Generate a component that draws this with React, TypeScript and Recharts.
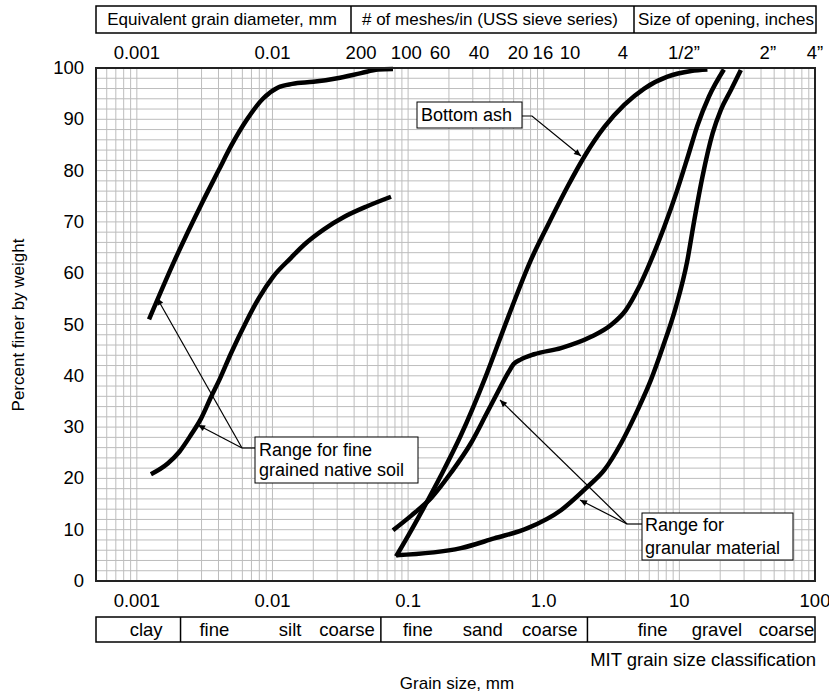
import React from "react"
import { LineChart, Line, XAxis, YAxis, CartesianGrid } from "recharts"

const W = 829
const H = 696
const FONT = "'Liberation Sans', Arial, Helvetica, sans-serif"

// grain size (mm) and percent finer
const fineUpperSize = [0.00123, 0.0019, 0.003, 0.004, 0.005, 0.0065, 0.0085, 0.011, 0.014, 0.02, 0.03, 0.045, 0.06, 0.0774]
const fineUpperPct = [51, 62.5, 73.5, 80, 85, 90, 94, 96.2, 96.9, 97.3, 98, 99, 99.7, 99.8]

const fineLowerSize = [0.00127, 0.00169, 0.00206, 0.00251, 0.00298, 0.00353, 0.00406, 0.00495, 0.00639, 0.00796, 0.0101, 0.0137, 0.0172, 0.0241, 0.0339, 0.0504, 0.0748]
const fineLowerPct = [20.8, 22.9, 25.2, 28.5, 31.7, 35.9, 39.2, 44.4, 50.5, 55.2, 59.3, 63.0, 65.6, 68.6, 71.0, 73.1, 74.9]

const ashSize = [0.0815, 0.1, 0.13, 0.175, 0.245, 0.375, 0.544, 0.805, 1.07, 1.5, 2.0, 2.8, 3.92, 5.51, 8.18, 12.2, 16.1]
const ashPct = [4.8, 8.8, 14.2, 20.6, 28.4, 40.0, 51.3, 62.6, 69.3, 76.9, 82.8, 88.5, 92.8, 96.0, 98.3, 99.4, 99.7]

const granUpperSize = [0.0774, 0.105, 0.148, 0.207, 0.291, 0.375, 0.46, 0.55, 0.6, 0.68, 0.85, 1.34, 2.23, 3.13, 4.03, 4.95, 5.86, 7.73, 9.59, 11.6, 13.6, 16.5, 21.3]
const granUpperPct = [9.9, 12.7, 16.2, 21.1, 26.9, 32.4, 36.9, 40.7, 42.3, 43.2, 44.2, 45.4, 47.6, 49.9, 52.8, 56.9, 61.1, 69.0, 76.0, 82.9, 88.8, 94.4, 99.7]

const granLowerSize = [0.0815, 0.245, 0.431, 0.76, 1.34, 2.11, 2.79, 3.71, 4.92, 6.17, 7.55, 9.42, 11.4, 12.9, 14.8, 17.6, 20.2, 24, 28.4]
const granLowerPct = [5.0, 6.4, 8.3, 10.3, 13.8, 18.4, 21.6, 26.8, 33.3, 39.2, 45.6, 53.4, 62.2, 70.4, 78.8, 87.3, 91.8, 95.7, 99.6]

// axes
const pctTicks = [0, 10, 20, 30, 40, 50, 60, 70, 80, 90, 100]
const bottomTicks = [0.001, 0.01, 0.1, 1, 10, 100]
const bottomTickLabels = ["0.001", "0.01", "0.1", "1.0", "10", "100"]
const topTicks = [0.001, 0.01, 0.045, 0.097, 0.172, 0.333, 0.646, 0.986, 1.56, 3.84, 10.8, 44.9, 100]
const topTickLabels = ["0.001", "0.01", "200", "100", "60", "40", "20", "16", "10", "4", "1/2\u201d", "2\u201d", "4\u201d"]

// MIT classification row
const mitWordSizes = [0.00117, 0.00373, 0.0135, 0.0355, 0.118, 0.355, 1.11, 6.35, 18.9, 61.7]
const mitWords = ["clay", "fine", "silt", "coarse", "fine", "sand", "coarse", "fine", "gravel", "coarse"]
const mitBounds = [0.0021, 0.063, 2.1]

const DOMAIN: [number, number] = [0.0005, 100]

// log paper grid
const gridX: number[] = []
for (const d of [0.0001, 0.001, 0.01, 0.1, 1, 10]) {
  for (let m = 1; m < 10; m++) {
    const v = +(d * m).toPrecision(3)
    if (v >= DOMAIN[0] && v <= DOMAIN[1]) gridX.push(v)
  }
}
const gridY = Array.from({ length: 51 }, (_, i) => i * 2)

const toPoints = (size: number[], pct: number[]) => size.map((s, i) => ({ size: s, pct: pct[i] }))

const curves = [
  toPoints(fineUpperSize, fineUpperPct),
  toPoints(fineLowerSize, fineLowerPct),
  toPoints(ashSize, ashPct),
  toPoints(granUpperSize, granUpperPct),
  toPoints(granLowerSize, granLowerPct),
]

const TopTick = ({ x, y, index }: any) => (
  <text x={x} y={y - 9} textAnchor="middle" fontSize={18.5} fontFamily={FONT} fill="#000">
    {topTickLabels[index]}
  </text>
)

const BottomTick = ({ x, y, index }: any) => (
  <text x={x} y={y + 26} textAnchor="middle" fontSize={18.5} fontFamily={FONT} fill="#000">
    {bottomTickLabels[index]}
  </text>
)

const PctTick = ({ x, y, payload }: any) => (
  <text x={x - 12} y={y + 6} textAnchor="end" fontSize={18.5} fontFamily={FONT} fill="#000">
    {payload.value}
  </text>
)

const MitTick = ({ x, y, payload }: any) => {
  if (mitBounds.includes(payload.value)) {
    return <line x1={x} x2={x} y1={y} y2={y + 25} stroke="#000" strokeWidth={1.5} />
  }
  const i = mitWordSizes.indexOf(payload.value)
  return (
    <text x={x} y={y + 19} textAnchor="middle" fontSize={18.5} fontFamily={FONT} fill="#000">
      {mitWords[i]}
    </text>
  )
}

const txt = { fontFamily: FONT, fill: "#000" }

export default function App() {
  return (
    <div style={{ position: "absolute", left: 0, top: 0, width: W, height: H, background: "#fff" }}>
      <LineChart width={W} height={H} margin={{ top: 38, right: 14, bottom: 54, left: 36 }}>
        <CartesianGrid
          xAxisId="bottom"
          yAxisId="pct"
          verticalValues={gridX}
          horizontalValues={gridY}
          stroke="#bdbdbd"
          strokeWidth={1}
        />
        <XAxis
          xAxisId="bottom"
          dataKey="size"
          type="number"
          scale="log"
          domain={DOMAIN}
          allowDataOverflow
          ticks={bottomTicks}
          interval={0}
          height={36}
          tickSize={0}
          tickMargin={0}
          axisLine={false}
          tickLine={false}
          tick={<BottomTick />}
        />
        <XAxis
          xAxisId="mit"
          dataKey="size"
          type="number"
          scale="log"
          domain={DOMAIN}
          allowDataOverflow
          ticks={[...mitWordSizes, ...mitBounds]}
          interval={0}
          height={25}
          tickSize={0}
          tickMargin={0}
          axisLine={false}
          tickLine={false}
          tick={<MitTick />}
        />
        <XAxis
          xAxisId="top"
          orientation="top"
          dataKey="size"
          type="number"
          scale="log"
          domain={DOMAIN}
          allowDataOverflow
          ticks={topTicks}
          interval={0}
          height={30}
          tickSize={0}
          tickMargin={0}
          axisLine={false}
          tickLine={false}
          tick={<TopTick />}
        />
        <YAxis
          yAxisId="pct"
          type="number"
          domain={[0, 100]}
          ticks={pctTicks}
          interval={0}
          width={60}
          tickSize={0}
          tickMargin={0}
          axisLine={false}
          tickLine={false}
          tick={<PctTick />}
        />
        {curves.map((data, i) => (
          <Line
            key={i}
            xAxisId="bottom"
            yAxisId="pct"
            data={data}
            dataKey="pct"
            type="monotone"
            stroke="#000"
            strokeWidth={4.5}
            dot={false}
            activeDot={false}
            isAnimationActive={false}
          />
        ))}
      </LineChart>

      <svg width={W} height={H} style={{ position: "absolute", left: 0, top: 0, pointerEvents: "none" }}>
        <defs>
          <marker id="arr" viewBox="0 0 10 10" refX="10" refY="5" markerWidth="10" markerHeight="7" markerUnits="userSpaceOnUse" orient="auto">
            <path d="M0,0.5 L10,5 L0,9.5 z" fill="#000" />
          </marker>
        </defs>

        {/* header row */}
        <rect x={96} y={6} width={720} height={27} fill="none" stroke="#000" strokeWidth={1.5} />
        <line x1={351} x2={351} y1={6} y2={33} stroke="#000" strokeWidth={1.5} />
        <line x1={634} x2={634} y1={6} y2={33} stroke="#000" strokeWidth={1.5} />
        <text x={222} y={25} textAnchor="middle" fontSize={17} {...txt}>Equivalent grain diameter, mm</text>
        <text x={490} y={25} textAnchor="middle" fontSize={17} {...txt}># of meshes/in (USS sieve series)</text>
        <text x={726} y={25} textAnchor="middle" fontSize={17} {...txt}>Size of opening, inches</text>

        {/* plot frame */}
        <rect x={96} y={68} width={719} height={513} fill="none" stroke="#222" strokeWidth={2} />

        {/* MIT box */}
        <rect x={96} y={617} width={719} height={25} fill="none" stroke="#000" strokeWidth={1.5} />
        <text x={816} y={666} textAnchor="end" fontSize={18.5} {...txt}>MIT grain size classification</text>
        <text x={457} y={689} textAnchor="middle" fontSize={17} {...txt}>Grain size, mm</text>
        <text x={24} y={325} textAnchor="middle" fontSize={17} transform="rotate(-90 24 325)" {...txt}>Percent finer by weight</text>

        {/* Bottom ash label */}
        <rect x={417} y={102} width={105} height={26} fill="#fff" stroke="#000" strokeWidth={1} />
        <text x={421} y={121} fontSize={18} {...txt}>Bottom ash</text>
        <polyline points="522,116 532,116 581,156" fill="none" stroke="#000" strokeWidth={1.2} markerEnd="url(#arr)" />

        {/* fine soil label */}
        <rect x={255} y={437} width={163} height={46} fill="#fff" stroke="#000" strokeWidth={1} />
        <text x={259} y={456} fontSize={18} {...txt}>Range for fine</text>
        <text x={259} y={476} fontSize={18} {...txt}>grained native soil</text>
        <line x1={255} y1={448} x2={242} y2={448} stroke="#000" strokeWidth={1.2} />
        <line x1={242} y1={448} x2={157} y2={298} stroke="#000" strokeWidth={1.2} markerEnd="url(#arr)" />
        <line x1={242} y1={448} x2={198} y2={425} stroke="#000" strokeWidth={1.2} markerEnd="url(#arr)" />

        {/* granular label */}
        <rect x={642} y={513} width={151} height={47} fill="#fff" stroke="#000" strokeWidth={1} />
        <text x={645} y={531} fontSize={18} {...txt}>Range for</text>
        <text x={645} y={554} fontSize={18} {...txt}>granular material</text>
        <line x1={642} y1={524} x2={627} y2={524} stroke="#000" strokeWidth={1.2} />
        <line x1={627} y1={524} x2={500} y2={400} stroke="#000" strokeWidth={1.2} markerEnd="url(#arr)" />
        <line x1={627} y1={524} x2={580} y2={500} stroke="#000" strokeWidth={1.2} markerEnd="url(#arr)" />
      </svg>
    </div>
  )
}
